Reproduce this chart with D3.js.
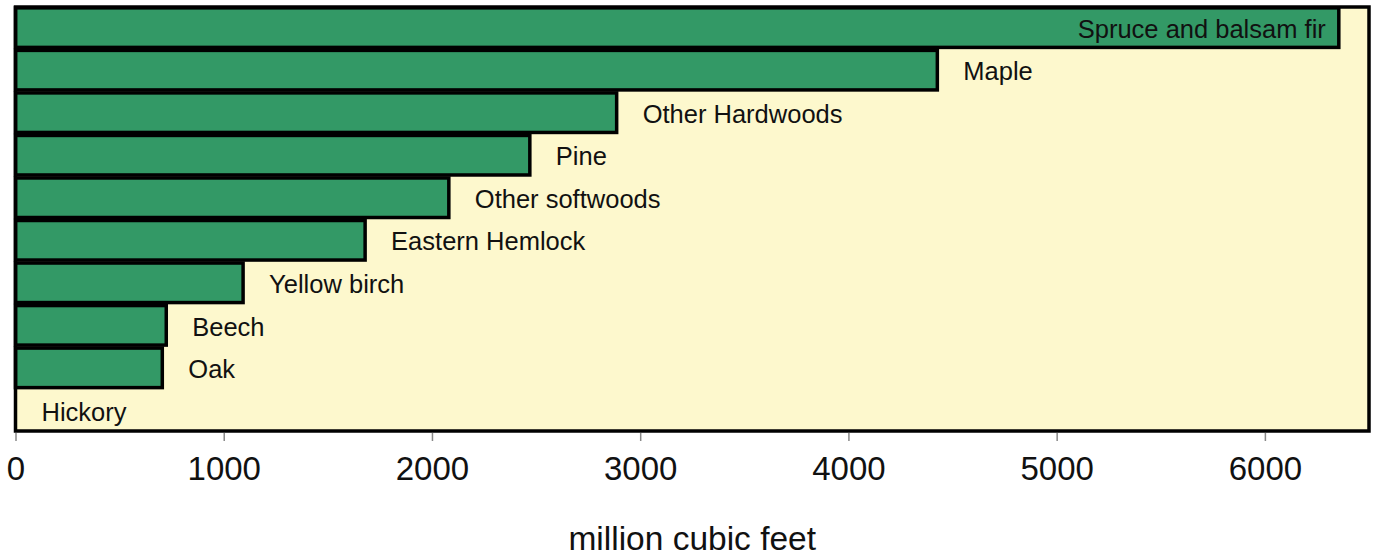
<!DOCTYPE html>
<html>
<head>
<meta charset="utf-8">
<script src="https://cdn.jsdelivr.net/npm/d3@7"></script>
<style>
  body { margin: 0; background: #fff; }
  svg { display: block; font-family: "Liberation Sans", Arial, sans-serif; }
</style>
</head>
<body>
<svg id="chart" width="1373" height="558"></svg>
<script>
// species, largest first
const species = ['Spruce and balsam fir', 'Maple', 'Other Hardwoods', 'Pine', 'Other softwoods',
  'Eastern Hemlock', 'Yellow birch', 'Beech', 'Oak', 'Hickory'];
const volume = [6355, 4427, 2887, 2470, 2081, 1679, 1093, 724, 705, 0];
const xTicks = [0, 1000, 2000, 3000, 4000, 5000, 6000];
const xTitle = 'million cubic feet';

const svg = d3.select('#chart');
const plot = { left: 15.5, right: 1369, top: 7, bottom: 431 };

const x = d3.scaleLinear().domain([0, 6500]).range([plot.left, plot.right]);
const y = d3.scaleBand().domain(species).range([plot.top, plot.bottom]).paddingInner(0.07).paddingOuter(0.02);

// background panel
svg.append('rect')
  .attr('x', plot.left).attr('y', plot.top)
  .attr('width', plot.right - plot.left).attr('height', plot.bottom - plot.top)
  .attr('fill', '#fdf8cd');

const rows = species.map((s, i) => ({ name: s, value: volume[i] }));

svg.append('g')
  .selectAll('rect')
  .data(rows.filter(d => d.value > 0))
  .join('rect')
  .attr('x', x(0))
  .attr('y', d => y(d.name))
  .attr('width', d => x(d.value) - x(0))
  .attr('height', y.bandwidth())
  .attr('fill', '#339966')
  .attr('stroke', '#000')
  .attr('stroke-width', 3.5);

// labels: inside the bar when it would run past the panel
const inside = d => x(d.value) + 26 > plot.right - 300;
svg.append('g')
  .selectAll('text')
  .data(rows)
  .join('text')
  .attr('x', d => inside(d) ? x(d.value) - 13 : x(d.value) + 26)
  .attr('y', d => y(d.name) + y.bandwidth() / 2)
  .attr('dy', '0.4em')
  .attr('text-anchor', d => inside(d) ? 'end' : 'start')
  .attr('font-size', 25.5)
  .attr('fill', '#111')
  .text(d => d.name);

// frame
svg.append('rect')
  .attr('x', plot.left).attr('y', plot.top)
  .attr('width', plot.right - plot.left).attr('height', plot.bottom - plot.top)
  .attr('fill', 'none')
  .attr('stroke', '#000')
  .attr('stroke-width', 3.5);

// x axis
const axis = svg.append('g')
  .attr('transform', `translate(0,${plot.bottom + 2})`)
  .call(d3.axisBottom(x).tickValues(xTicks).tickSize(8).tickPadding(16).tickFormat(d3.format('d')));
axis.select('.domain').remove();
axis.selectAll('.tick line').attr('stroke', '#888').attr('stroke-width', 1.5);
axis.selectAll('.tick text')
  .attr('font-size', 33)
  .attr('font-family', '"Liberation Sans", Arial, sans-serif')
  .attr('fill', '#111');

svg.append('text')
  .attr('x', (plot.left + plot.right) / 2)
  .attr('y', 550)
  .attr('text-anchor', 'middle')
  .attr('font-size', 33.5)
  .attr('fill', '#111')
  .text(xTitle);
</script>
</body>
</html>
